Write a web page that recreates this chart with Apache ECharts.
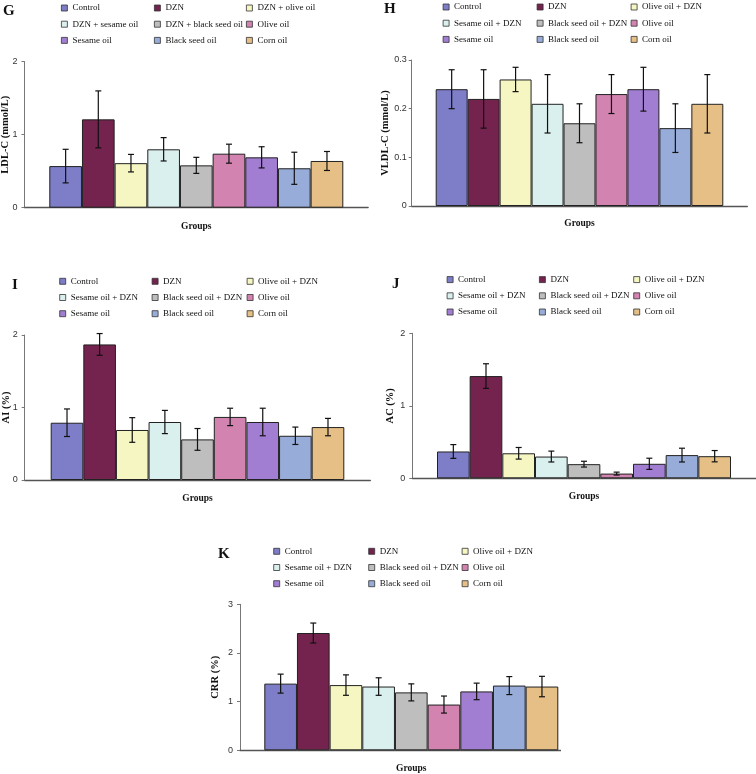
<!DOCTYPE html>
<html>
<head>
<meta charset="utf-8">
<script src="https://cdn.jsdelivr.net/npm/echarts@6/dist/echarts.min.js"></script>
<style>
html,body{margin:0;padding:0;background:#fff;}
#main{position:absolute;left:0;top:0;width:756px;height:774px;}
#kwrap{position:absolute;left:0;top:0;width:561px;height:774px;overflow:hidden;}
#kchart{position:absolute;left:0;top:0;width:600px;height:774px;}
</style>
</head>
<body>
<div id="main"></div>
<div id="kwrap"><div id="kchart"></div></div>
<script>
// ---- data ----
const categories = ['Control', 'DZN', 'Olive oil + DZN', 'Sesame oil + DZN', 'Black seed oil + DZN', 'Olive oil', 'Sesame oil', 'Black seed oil', 'Corn oil'];
const categoriesG = ['Control', 'DZN', 'DZN + olive oil', 'DZN + sesame oil', 'DZN + black seed oil', 'Olive oil', 'Sesame oil', 'Black seed oil', 'Corn oil'];

const ldlValues  = [0.57, 1.21, 0.61, 0.80, 0.58, 0.74, 0.69, 0.54, 0.64];
const ldlErrors  = [0.23, 0.39, 0.12, 0.16, 0.11, 0.13, 0.145, 0.22, 0.13];

const vldlValues = [0.24, 0.22, 0.26, 0.21, 0.17, 0.23, 0.24, 0.16, 0.21];
const vldlErrors = [0.04, 0.06, 0.025, 0.06, 0.04, 0.04, 0.045, 0.05, 0.06];

const aiValues   = [0.79, 1.87, 0.69, 0.80, 0.56, 0.87, 0.80, 0.61, 0.73];
const aiErrors   = [0.19, 0.15, 0.17, 0.16, 0.15, 0.12, 0.19, 0.12, 0.12];

const acValues   = [0.37, 1.41, 0.345, 0.30, 0.195, 0.065, 0.20, 0.32, 0.305];
const acErrors   = [0.095, 0.17, 0.08, 0.075, 0.04, 0.02, 0.077, 0.095, 0.078];

const crrValues  = [1.37, 2.41, 1.34, 1.31, 1.19, 0.94, 1.21, 1.33, 1.31];
const crrErrors  = [0.195, 0.205, 0.21, 0.18, 0.175, 0.175, 0.17, 0.185, 0.21];

const xAxisTitle = 'Groups';

// ---- styles ----
const colors = ['#7D7DC8', '#74224E', '#F5F6C2', '#DAF0EE', '#BEBEBE', '#D283B0', '#A27ED2', '#97ACD8', '#E5BF85'];
const serif = "'Liberation Serif', 'Times New Roman', serif";
const sans = "'Liberation Sans', Arial, sans-serif";

const panelsMain = [
  {letter: 'G', lx: 3, ly: 4, names: categoriesG, values: ldlValues, errors: ldlErrors, yName: 'LDL-C (mmol/L)', max: 2, interval: 1,
   left: 24.5, top: 61.7, height: 146, barsL: 49.3, barsR: 343.3, yNameGap: 14, labelMargin: 7, xNameGap: 13.5,
   legendLeft: [61, 154, 246], legendTop: 2},
  {letter: 'H', lx: 384, ly: 2, names: categories, values: vldlValues, errors: vldlErrors, yName: 'VLDL-C (mmol/L)', max: 0.3, interval: 0.1,
   left: 411.7, top: 60, height: 146, barsL: 435.7, barsR: 723.3, yNameGap: 21, labelMargin: 5, xNameGap: 13,
   legendLeft: [442.7, 536.7, 630.7], legendTop: 1},
  {letter: 'I', lx: 12, ly: 278, names: categories, values: aiValues, errors: aiErrors, yName: 'AI (%)', max: 2, interval: 1,
   left: 24.7, top: 335, height: 145, barsL: 50.7, barsR: 344.3, yNameGap: 13, labelMargin: 7, xNameGap: 14,
   legendLeft: [59.3, 151.7, 246.7], legendTop: 275.3},
  {letter: 'J', lx: 392, ly: 277, names: categories, values: acValues, errors: acErrors, yName: 'AC (%)', max: 2, interval: 1,
   left: 412.3, top: 333.3, height: 145, barsL: 437, barsR: 731, yNameGap: 17, labelMargin: 7, xNameGap: 13,
   legendLeft: [446.7, 539, 633.3], legendTop: 273.6}
];
const panelsK = [
  {letter: 'K', lx: 218, ly: 547, names: categories, values: crrValues, errors: crrErrors, yName: 'CRR (%)', max: 3, interval: 1,
   left: 240, top: 604.3, height: 146, barsL: 264.3, barsR: 558.3, yNameGap: 19, labelMargin: 7, xNameGap: 13.5,
   legendLeft: [273.3, 368.3, 461.7], legendTop: 545.3}
];

function buildOption(panels) {
  const opt = {animation: false, backgroundColor: 'transparent', title: [], legend: [], grid: [], xAxis: [], yAxis: [], series: []};
  panels.forEach((p, k) => {
    const width = p.barsR + p.barsL - 2 * p.left;
    const gapRatio = 2 * (p.barsL - p.left) / width;
    opt.title.push({text: p.letter, left: p.lx, top: p.ly, padding: 0,
      textStyle: {fontFamily: serif, fontWeight: 'bold', fontSize: 15, color: '#111'}});
    for (let c = 0; c < 3; c++) {
      opt.legend.push({orient: 'vertical', left: p.legendLeft[c], top: p.legendTop, padding: 0, itemGap: 4.2,
        itemWidth: 6, itemHeight: 6, icon: 'rect', selectedMode: false,
        data: [p.names[c], p.names[c + 3], p.names[c + 6]],
        itemStyle: {borderColor: '#333', borderWidth: 0.8},
        textStyle: {fontFamily: serif, fontSize: 9, color: '#111', lineHeight: 12}});
    }
    opt.grid.push({left: p.left, top: p.top, width: width, height: p.height, containLabel: false, outerBoundsMode: 'none'});
    opt.xAxis.push({type: 'category', gridIndex: k, data: [''], name: xAxisTitle, nameLocation: 'middle', nameGap: p.xNameGap,
      nameMoveOverlap: false,
      nameTextStyle: {fontFamily: serif, fontWeight: 'bold', fontSize: 9.5, color: '#111'},
      axisLine: {lineStyle: {color: '#555', width: 1.4}}, axisTick: {show: false}, axisLabel: {show: false}, splitLine: {show: false}});
    opt.yAxis.push({type: 'value', gridIndex: k, min: 0, max: p.max, interval: p.interval, name: p.yName,
      nameLocation: 'middle', nameGap: p.yNameGap, nameMoveOverlap: false,
      nameTextStyle: {fontFamily: serif, fontWeight: 'bold', fontSize: 10.5, color: '#111'},
      axisLine: {show: true, lineStyle: {color: '#777', width: 1}},
      axisTick: {show: true, length: 3, lineStyle: {color: '#777'}},
      axisLabel: {margin: p.labelMargin, fontFamily: sans, fontSize: 9, color: '#333'},
      splitLine: {show: false}});
    for (let i = 0; i < 9; i++) {
      opt.series.push({type: 'bar', name: p.names[i], xAxisIndex: k, yAxisIndex: k, data: [p.values[i]],
        barGap: '0%', barCategoryGap: (gapRatio * 100) + '%', silent: true,
        itemStyle: {color: colors[i], borderColor: '#222', borderWidth: 1}});
    }
    const errData = p.values.map((v, i) => [0, v, p.errors[i], i]);
    opt.series.push({type: 'custom', name: 'err' + p.letter, xAxisIndex: k, yAxisIndex: k, silent: true, z: 10,
      data: errData, encode: {x: 0, y: 1},
      renderItem: function (params, api) {
        const v = api.value(1), e = api.value(2), idx = api.value(3);
        const center = api.coord([0, v]);
        const band = api.size([1, 0])[0];
        const inner = band * (1 - gapRatio);
        const bw = inner / 9;
        const cx = center[0] - inner / 2 + bw * (idx + 0.5);
        const yt = api.coord([0, v + e])[1];
        const yb = api.coord([0, v - e])[1];
        const st = {stroke: '#111', lineWidth: 1.2};
        return {type: 'group', children: [
          {type: 'line', shape: {x1: cx, y1: yt, x2: cx, y2: yb}, style: st},
          {type: 'line', shape: {x1: cx - 3, y1: yt, x2: cx + 3, y2: yt}, style: st},
          {type: 'line', shape: {x1: cx - 3, y1: yb, x2: cx + 3, y2: yb}, style: st}
        ]};
      }});
  });
  return opt;
}

const mainChart = echarts.init(document.getElementById('main'), null, {renderer: 'canvas'});
mainChart.setOption(buildOption(panelsMain));
const kChart = echarts.init(document.getElementById('kchart'), null, {renderer: 'canvas'});
kChart.setOption(buildOption(panelsK));
</script>
</body>
</html>
